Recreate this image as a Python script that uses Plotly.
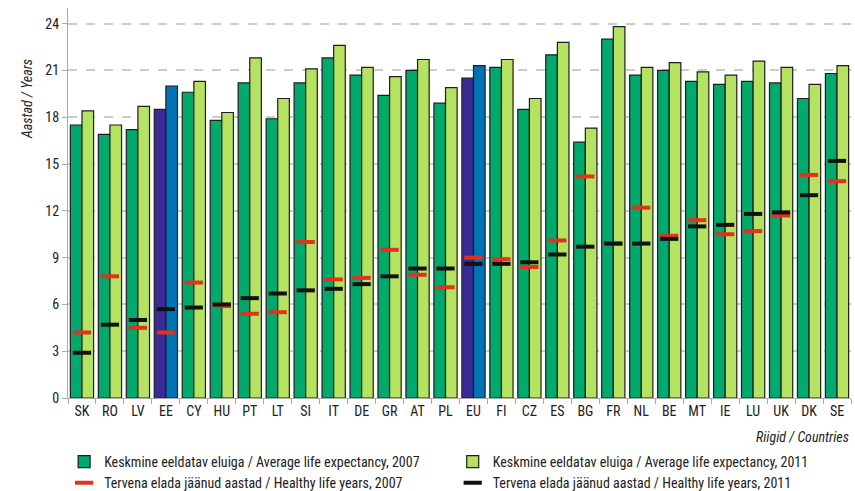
import plotly.graph_objects as go

countries = ["SK","RO","LV","EE","CY","HU","PT","LT","SI","IT","DE","GR","AT","PL",
             "EU","FI","CZ","ES","BG","FR","NL","BE","MT","IE","LU","UK","DK","SE"]
life_2007 = [17.5,16.9,17.2,18.5,19.6,17.8,20.2,17.9,20.2,21.8,20.7,19.4,21.0,18.9,
             20.5,21.2,18.5,22.0,16.4,23.0,20.7,21.0,20.3,20.1,20.3,20.2,19.2,20.8]
life_2011 = [18.4,17.5,18.7,20.0,20.3,18.3,21.8,19.2,21.1,22.6,21.2,20.6,21.7,19.9,
             21.3,21.7,19.2,22.8,17.3,23.8,21.2,21.5,20.9,20.7,21.6,21.2,20.1,21.3]
healthy_2007 = [4.2,7.8,4.5,4.2,7.4,5.9,5.4,5.5,10.0,7.6,7.7,9.5,7.9,7.1,
                9.0,8.9,8.4,10.1,14.2,9.9,12.2,10.4,11.4,10.5,10.7,11.7,14.3,13.9]
healthy_2011 = [2.9,4.7,5.0,5.7,5.8,6.0,6.4,6.7,6.9,7.0,7.3,7.8,8.3,8.3,
                8.6,8.6,8.7,9.2,9.7,9.9,9.9,10.2,11.0,11.1,11.8,11.9,13.0,15.2]
y_ticks = [0,3,6,9,12,15,18,21,24]

highlight = {"EE", "EU"}
c07 = ["#3b2b97" if c in highlight else "#00a96c" for c in countries]
c11 = ["#0072b6" if c in highlight else "#b6e261" for c in countries]

FONT = "Liberation Sans Narrow, Roboto Condensed, Roboto, sans-serif"

fig = go.Figure()
fig.add_trace(go.Bar(x=countries, y=life_2007, marker=dict(color=c07, line=dict(color="#1e1e1e", width=1.2)),
                     name="Keskmine eeldatav eluiga / Average life expectancy, 2007", legend="legend"))
fig.add_trace(go.Bar(x=countries, y=life_2011, marker=dict(color=c11, line=dict(color="#1e1e1e", width=1.2)),
                     name="Keskmine eeldatav eluiga / Average life expectancy, 2011", legend="legend2"))
fig.add_trace(go.Scatter(x=countries, y=healthy_2007, mode="markers",
                         marker=dict(symbol="line-ew", size=13, line=dict(color="#e3301f", width=4)),
                         name="Tervena elada jäänud aastad / Healthy life years, 2007", legend="legend"))
fig.add_trace(go.Scatter(x=countries, y=healthy_2011, mode="markers",
                         marker=dict(symbol="line-ew", size=13, line=dict(color="#111111", width=4)),
                         name="Tervena elada jäänud aastad / Healthy life years, 2011", legend="legend2"))

leg_common = dict(orientation="v", xref="container", yref="container", y=0.0916,
                  xanchor="left", yanchor="top", font=dict(size=14, color="#222"),
                  itemwidth=30, tracegroupgap=0, traceorder="normal", bgcolor="rgba(0,0,0,0)")

fig.update_layout(
    width=855, height=491,
    margin=dict(l=68, r=4, t=8, b=93, autoexpand=False),
    plot_bgcolor="white", paper_bgcolor="white",
    barmode="group", bargap=0.17, bargroupgap=0.0,
    font=dict(family=FONT, size=13, color="#222"),
    showlegend=True,
    legend=dict(x=0.075, **leg_common),
    legend2=dict(x=0.5295, **leg_common),
    xaxis=dict(type="category", range=[-0.5, 27.5], tickson="boundaries", ticks="outside", ticklen=5,
               tickcolor="#aaa", showline=True, linecolor="#aaa", linewidth=1,
               showgrid=False, tickangle=0, automargin=False, tickfont=dict(size=14, color="#222")),
    yaxis=dict(range=[0, 25], tickvals=y_ticks, ticks="outside", ticklen=5, tickcolor="#aaa",
               showline=True, linecolor="#aaa", linewidth=1, showgrid=True, automargin=False,
               gridcolor="#cccccc", griddash="dash", gridwidth=1.5, zeroline=False,
               tickfont=dict(size=14, color="#222")),
    annotations=[
        dict(text="<i>Aastad / Years</i>", xref="paper", yref="paper", x=-0.066, y=0.875,
             textangle=-90, showarrow=False, font=dict(size=14, color="#222")),
        dict(text="<i>Riigid / Countries</i>", xref="paper", yref="paper", x=1.0, y=-0.1,
             xanchor="right", yanchor="middle", showarrow=False, font=dict(size=14, color="#222")),
    ],
)
fig.write_html("out.html", config={"displayModeBar": False},
               post_script="document.body.style.margin='0';")
